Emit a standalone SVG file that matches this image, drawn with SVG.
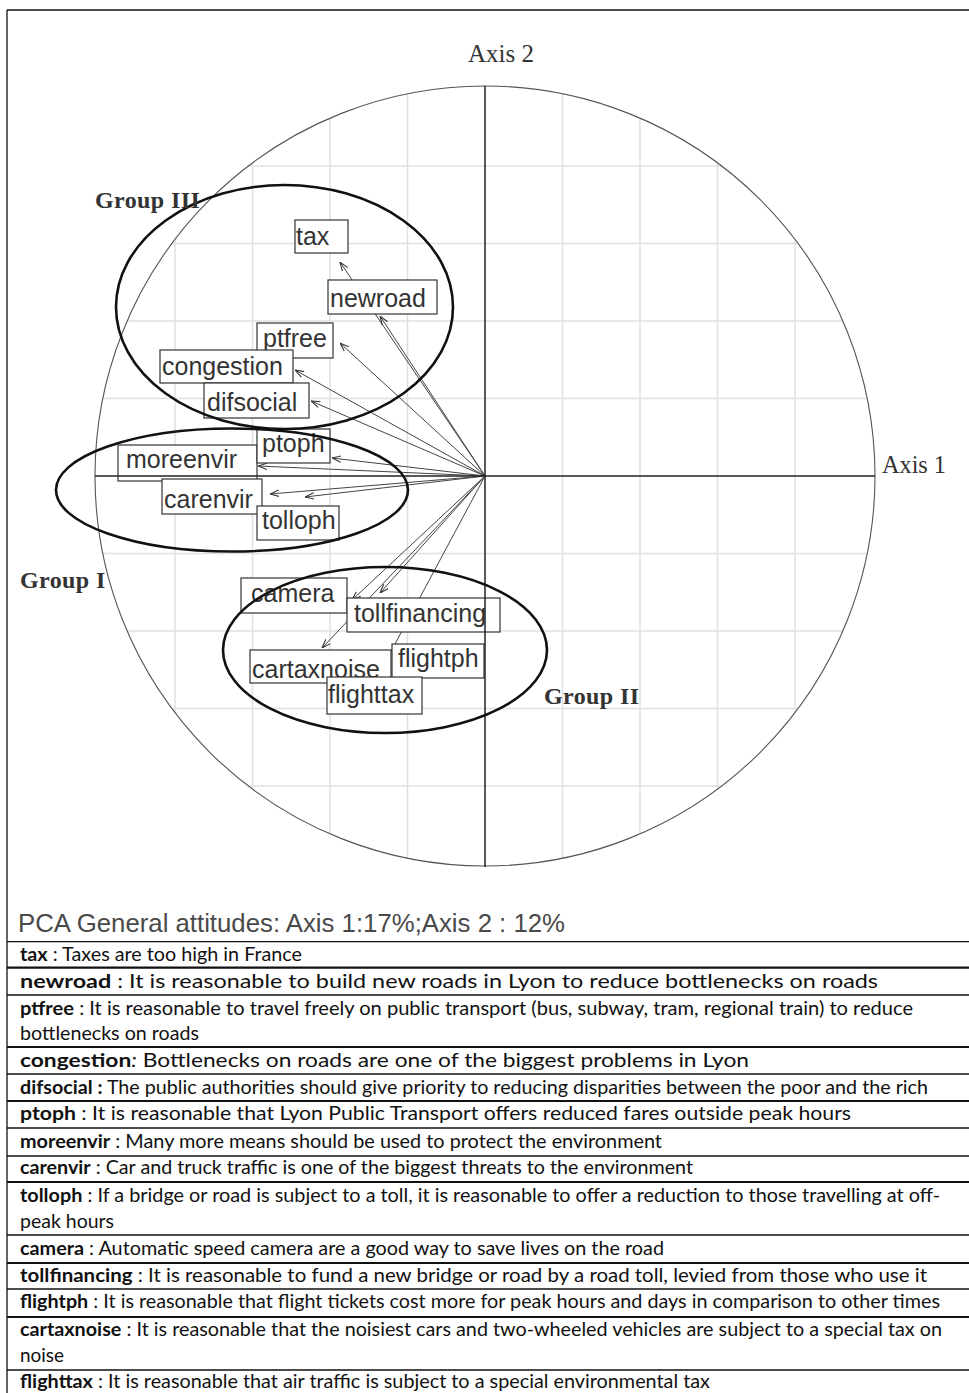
<svg xmlns="http://www.w3.org/2000/svg" width="969" height="1393" viewBox="0 0 969 1393">
<style>
.grid{stroke:#e0e0e0;stroke-width:1.5;fill:none}
.axis{stroke:#222;stroke-width:1.5}
.circ{fill:none;stroke:#555;stroke-width:1.1}
.conn{stroke:#444;stroke-width:1;fill:none;marker-end:url(#ah)}
.box{fill:#fff;stroke:#333;stroke-width:1.2}
.lbl{font-family:"Liberation Sans",Arial,sans-serif;font-size:25px;fill:#333}
.grp{fill:none;stroke:#111;stroke-width:2.6}
.gl{font-family:"Liberation Serif","Times New Roman",serif;font-size:24px;font-weight:bold;fill:#333;letter-spacing:0.4px}
.ax{font-family:"Liberation Serif","Times New Roman",serif;font-size:25px;fill:#333}
.cap{font-family:"Liberation Sans",Arial,sans-serif;font-size:25px;fill:#4a4a4a}
.row{stroke:#111;stroke-width:1.3}
.rowt{stroke:#111;stroke-width:2.2}
.tt{font-family:Lato,"Open Sans",sans-serif;font-size:19px;fill:#111}
.tt tspan.b{font-weight:bold}
</style>
<defs>
<clipPath id="cc"><circle cx="485" cy="476" r="390"/></clipPath>
<marker id="ah" viewBox="0 0 10 10" refX="10" refY="5" markerWidth="9" markerHeight="9" markerUnits="userSpaceOnUse" orient="auto"><path d="M0,1.5 L10,5 L0,8.5" fill="none" stroke="#333" stroke-width="1.2"/></marker>
</defs>
<rect x="0" y="0" width="969" height="1393" fill="#fff"/>
<g id="frame" stroke="#111" stroke-width="1.3">
<line x1="7" y1="10" x2="969" y2="10"/>
<line x1="7" y1="10" x2="7" y2="1393"/>
</g>
<g id="grid" class="grid" clip-path="url(#cc)">
<line x1="175" y1="80" x2="175" y2="880"/><line x1="252.5" y1="80" x2="252.5" y2="880"/><line x1="330" y1="80" x2="330" y2="880"/><line x1="407.5" y1="80" x2="407.5" y2="880"/>
<line x1="562.5" y1="80" x2="562.5" y2="880"/><line x1="640" y1="80" x2="640" y2="880"/><line x1="717.5" y1="80" x2="717.5" y2="880"/><line x1="795" y1="80" x2="795" y2="880"/>
<line x1="90" y1="166" x2="880" y2="166"/><line x1="90" y1="243.5" x2="880" y2="243.5"/><line x1="90" y1="321" x2="880" y2="321"/><line x1="90" y1="398.5" x2="880" y2="398.5"/>
<line x1="90" y1="553.5" x2="880" y2="553.5"/><line x1="90" y1="631" x2="880" y2="631"/><line x1="90" y1="708.5" x2="880" y2="708.5"/><line x1="90" y1="786" x2="880" y2="786"/>
</g>
<circle id="unit-circle" class="circ" cx="485" cy="476" r="390"/>
<g id="connectors">
<line class="conn" x1="485" y1="476" x2="340" y2="262"/>
<line class="conn" x1="485" y1="476" x2="380" y2="316"/>
<line class="conn" x1="485" y1="476" x2="340" y2="343"/>
<line class="conn" x1="485" y1="476" x2="295" y2="370"/>
<line class="conn" x1="485" y1="476" x2="311" y2="401"/>
<line class="conn" x1="485" y1="476" x2="332" y2="458"/>
<line class="conn" x1="485" y1="476" x2="258" y2="466"/>
<line class="conn" x1="485" y1="476" x2="270" y2="494"/>
<line class="conn" x1="485" y1="476" x2="305" y2="497"/>
<line class="conn" x1="485" y1="476" x2="352" y2="600"/>
<line class="conn" x1="485" y1="476" x2="380" y2="593"/>
<line class="conn" x1="485" y1="476" x2="322" y2="648"/>
<line class="conn" x1="485" y1="476" x2="380" y2="672"/>
</g>
<g id="node-tax"><rect class="box" x="295" y="220" width="53" height="33"/><text class="lbl" x="296" y="245">tax</text></g>
<g id="node-newroad"><rect class="box" x="328" y="280" width="109" height="34"/><text class="lbl" x="330" y="307">newroad</text></g>
<g id="node-ptfree"><rect class="box" x="257" y="323" width="76" height="35"/><text class="lbl" x="263" y="347">ptfree</text></g>
<g id="node-congestion"><rect class="box" x="160" y="350" width="133" height="33"/><text class="lbl" x="162" y="375">congestion</text></g>
<g id="node-difsocial"><rect class="box" x="204" y="383" width="105" height="35"/><text class="lbl" x="207" y="411">difsocial</text></g>
<g id="node-moreenvir"><rect class="box" x="118" y="445" width="139" height="36"/><text class="lbl" x="126" y="468">moreenvir</text></g>
<g id="node-ptoph"><rect class="box" x="257" y="429" width="73" height="34"/><text class="lbl" x="262" y="452">ptoph</text></g>
<g id="node-carenvir"><rect class="box" x="162" y="479" width="100" height="35"/><text class="lbl" x="164" y="508">carenvir</text></g>
<g id="node-tolloph"><rect class="box" x="257" y="506" width="82" height="34"/><text class="lbl" x="262" y="529">tolloph</text></g>
<g id="node-camera"><rect class="box" x="241" y="578" width="106" height="35"/><text class="lbl" x="251" y="602">camera</text></g>
<g id="node-tollfinancing"><rect class="box" x="347" y="598" width="153" height="34"/><text class="lbl" x="354" y="622">tollfinancing</text></g>
<g id="node-cartaxnoise"><rect class="box" x="250" y="650" width="141" height="33"/><text class="lbl" x="252" y="678">cartaxnoise</text></g>
<g id="node-flightph"><rect class="box" x="392" y="644" width="92" height="34"/><text class="lbl" x="398" y="667">flightph</text></g>
<g id="node-flighttax"><rect class="box" x="327" y="677" width="95" height="37"/><text class="lbl" x="328" y="703">flighttax</text></g>
<g id="axes">
<line class="axis" x1="485" y1="86" x2="485" y2="867"/>
<line class="axis" x1="95" y1="476" x2="875" y2="476"/>
<text class="ax" x="468" y="62">Axis 2</text>
<text class="ax" x="882" y="473" textLength="64" lengthAdjust="spacingAndGlyphs">Axis 1</text>
</g>
<g id="group-iii"><ellipse class="grp" cx="284.5" cy="307" rx="168.5" ry="122"/><text class="gl" x="95" y="208">Group III</text></g>
<g id="group-i"><ellipse class="grp" cx="232" cy="490" rx="176" ry="61.5"/><text class="gl" x="20" y="588">Group I</text></g>
<g id="group-ii"><ellipse class="grp" cx="385" cy="650" rx="162" ry="83"/><text class="gl" x="544" y="704">Group II</text></g>
<text id="caption" class="cap" x="18" y="932" textLength="547" lengthAdjust="spacingAndGlyphs">PCA General attitudes: Axis 1:17%;Axis 2 : 12%</text>
<g id="table-lines">
<line class="row" x1="7" y1="941.7" x2="969" y2="941.7"/>
<line class="rowt" x1="7" y1="967.7" x2="969" y2="967.7"/>
<line class="row" x1="7" y1="995" x2="969" y2="995"/>
<line class="rowt" x1="7" y1="1047" x2="969" y2="1047"/>
<line class="row" x1="7" y1="1074" x2="969" y2="1074"/>
<line class="rowt" x1="7" y1="1101" x2="969" y2="1101"/>
<line class="row" x1="7" y1="1128" x2="969" y2="1128"/>
<line class="row" x1="7" y1="1156" x2="969" y2="1156"/>
<line class="rowt" x1="7" y1="1182" x2="969" y2="1182"/>
<line class="row" x1="7" y1="1235" x2="969" y2="1235"/>
<line class="rowt" x1="7" y1="1263" x2="969" y2="1263"/>
<line class="row" x1="7" y1="1289" x2="969" y2="1289"/>
<line class="rowt" x1="7" y1="1317" x2="969" y2="1317"/>
<line class="row" x1="7" y1="1370" x2="969" y2="1370"/>
</g>
<g id="table-text">
<text class="tt" x="20" y="961" textLength="282" lengthAdjust="spacingAndGlyphs"><tspan class="b">tax</tspan> : Taxes are too high in France</text>
<text class="tt" x="20" y="988" textLength="858" lengthAdjust="spacingAndGlyphs"><tspan class="b">newroad</tspan> :  It is reasonable to build new roads in Lyon to reduce bottlenecks on roads</text>
<text class="tt" x="20" y="1015" textLength="893" lengthAdjust="spacingAndGlyphs"><tspan class="b">ptfree</tspan> :  It is reasonable to travel freely on public transport (bus, subway, tram, regional train) to reduce</text>
<text class="tt" x="20" y="1040" textLength="179" lengthAdjust="spacingAndGlyphs">bottlenecks on roads</text>
<text class="tt" x="20" y="1067" textLength="729" lengthAdjust="spacingAndGlyphs"><tspan class="b">congestion</tspan><tspan font-style="italic">:</tspan>  Bottlenecks on roads are one of the biggest problems in Lyon</text>
<text class="tt" x="20" y="1094" textLength="908" lengthAdjust="spacingAndGlyphs"><tspan class="b">difsocial :</tspan> The public authorities should give priority to reducing disparities between the poor and the rich</text>
<text class="tt" x="20" y="1120" textLength="831" lengthAdjust="spacingAndGlyphs"><tspan class="b">ptoph</tspan> : It is reasonable that Lyon Public Transport offers reduced fares outside peak hours</text>
<text class="tt" x="20" y="1148" textLength="642" lengthAdjust="spacingAndGlyphs"><tspan class="b">moreenvir</tspan> : Many more means should be used to protect the environment</text>
<text class="tt" x="20" y="1174" textLength="673" lengthAdjust="spacingAndGlyphs"><tspan class="b">carenvir</tspan> : Car and truck traffic is one of the biggest threats to the environment</text>
<text class="tt" x="20" y="1202" textLength="920" lengthAdjust="spacingAndGlyphs"><tspan class="b">tolloph</tspan> : If a bridge or road is subject to a toll, it is reasonable to offer a reduction to those travelling at off-</text>
<text class="tt" x="20" y="1228" textLength="94" lengthAdjust="spacingAndGlyphs">peak hours</text>
<text class="tt" x="20" y="1255" textLength="644" lengthAdjust="spacingAndGlyphs"><tspan class="b">camera</tspan> : Automatic speed camera are a good way to save lives on the road</text>
<text class="tt" x="20" y="1282" textLength="907" lengthAdjust="spacingAndGlyphs"><tspan class="b">tollfinancing</tspan> : It is reasonable to fund a new bridge or road by a road toll, levied from those who use it</text>
<text class="tt" x="20" y="1308" textLength="920" lengthAdjust="spacingAndGlyphs"><tspan class="b">flightph</tspan> : It is reasonable that flight tickets cost more for peak hours and days in comparison to other times</text>
<text class="tt" x="20" y="1336" textLength="922" lengthAdjust="spacingAndGlyphs"><tspan class="b">cartaxnoise</tspan> : It is reasonable that the noisiest cars and two-wheeled vehicles are subject to a special tax on</text>
<text class="tt" x="20" y="1362" textLength="44" lengthAdjust="spacingAndGlyphs">noise</text>
<text class="tt" x="20" y="1388" textLength="690" lengthAdjust="spacingAndGlyphs"><tspan class="b">flighttax</tspan> : It is reasonable that air traffic is subject to a special environmental tax</text>
</g>
</svg>
